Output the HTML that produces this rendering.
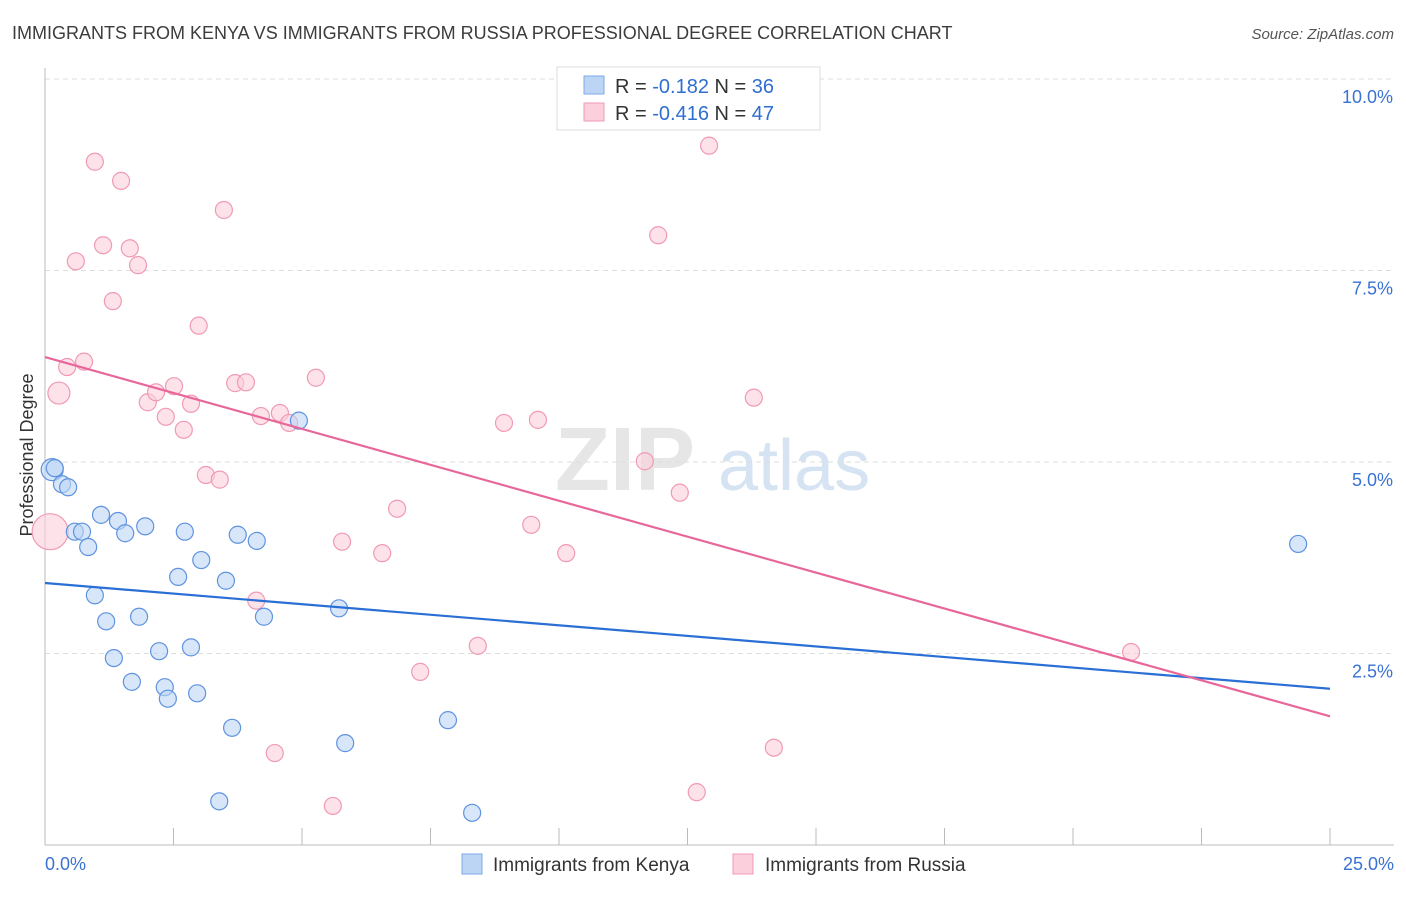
<!DOCTYPE html>
<html><head><meta charset="utf-8"><style>
body{margin:0;background:#fff;font-family:"Liberation Sans",sans-serif;}
svg text{font-family:"Liberation Sans",sans-serif;}
</style></head><body>
<svg id="chart" width="1406" height="892" viewBox="0 0 1406 892">
<text x="12" y="39" font-size="18" fill="#3c3c3c">IMMIGRANTS FROM KENYA VS IMMIGRANTS FROM RUSSIA PROFESSIONAL DEGREE CORRELATION CHART</text>
<text x="1394" y="39" font-size="15" fill="#555" text-anchor="end" font-style="italic">Source: ZipAtlas.com</text>
<text x="555" y="490" font-size="90" fill="#e6e6e6" font-family="Liberation Serif" font-weight="bold">ZIP</text>
<text x="718" y="490" font-size="72" fill="#d5e3f3">atlas</text>
<text transform="translate(33,455) rotate(-90)" font-size="18" fill="#333" text-anchor="middle">Professional Degree</text>
<g id="grid"></g><g id="axes"></g><g id="pts"></g><g id="lines"></g>
<g>
<rect x="557" y="67" width="263" height="63" fill="#fff" stroke="#ddd"/>
<rect x="584" y="76" width="20" height="18" fill="#bcd5f5" stroke="#7ea9e8"/>
<text x="615" y="93" font-size="20" fill="#333">R = <tspan fill="#2f6fd0">-0.182</tspan>   N = <tspan fill="#2f6fd0">36</tspan></text>
<rect x="584" y="103" width="20" height="18" fill="#fbcfdc" stroke="#f09ab4"/>
<text x="615" y="120" font-size="20" fill="#333">R = <tspan fill="#2f6fd0">-0.416</tspan>   N = <tspan fill="#2f6fd0">47</tspan></text>
</g>
<g>
<rect x="462" y="854" width="20" height="20" fill="#bcd5f5" stroke="#7ea9e8"/>
<text x="493" y="871" font-size="19" fill="#333">Immigrants from Kenya</text>
<rect x="733" y="854" width="20" height="20" fill="#fbcfdc" stroke="#f09ab4"/>
<text x="765" y="871" font-size="19" fill="#333">Immigrants from Russia</text>
</g>
</svg>
<script>
const kenyaX=[0.14,0.19,0.33,0.45,0.58,0.72,0.84,1.09,1.42,1.56,1.95,0.97,1.19,1.83,1.34,1.69,2.22,2.33,2.39,2.59,2.72,2.84,2.96,3.04,3.52,3.64,3.39,3.75,4.12,4.26,4.94,5.72,5.84,7.84,8.31,24.38];
const kenyaY=[4.90,4.92,4.71,4.67,4.09,4.09,3.89,4.31,4.23,4.07,4.16,3.26,2.92,2.98,2.44,2.13,2.53,2.06,1.91,3.50,4.09,2.58,1.98,3.72,3.45,1.53,0.57,4.05,3.97,2.98,5.54,3.09,1.33,1.63,0.42,3.93];
const russiaX=[0.10,0.27,0.43,0.60,0.76,0.97,1.13,1.32,1.48,1.65,1.81,2.00,2.16,2.35,2.51,2.70,2.84,2.99,3.13,3.40,3.48,3.70,3.91,4.11,4.20,4.47,4.57,4.75,5.27,5.60,5.78,6.56,6.85,7.30,8.42,8.93,9.46,9.59,10.14,11.67,11.93,12.35,12.68,12.92,13.79,14.18,21.13];
const russiaY=[4.09,5.90,6.24,7.62,6.31,8.92,7.83,7.10,8.67,7.79,7.57,5.78,5.91,5.59,5.99,5.42,5.76,6.78,4.83,4.77,8.29,6.03,6.04,3.19,5.60,1.20,5.64,5.51,6.10,0.51,3.96,3.81,4.39,2.26,2.60,5.51,4.18,5.55,3.81,5.01,7.96,4.60,0.69,9.13,5.84,1.27,2.52];
const kenyaTrend=[3.42,2.04];
const russiaTrend=[6.37,1.68];
const yTicks=[2.5,5.0,7.5,10.0];
const xTickVals=[0,2.5,5,7.5,10,12.5,15,17.5,20,22.5,25];
const NS='http://www.w3.org/2000/svg';
const X=v=>45+v*51.4, Y=v=>845-v*76.6;
function mk(t,a,p){const e=document.createElementNS(NS,t);for(const k in a)e.setAttribute(k,a[k]);document.getElementById(p).appendChild(e);return e;}
yTicks.forEach(v=>{
 const l=mk('line',{x1:45,x2:1394,y1:Y(v),y2:Y(v),stroke:'#ddd','stroke-dasharray':'5,4'},'grid');
 
 
 const t=mk('text',{x:1393,y:Y(v)+24,'font-size':18,fill:'#3a72d4','text-anchor':'end'},'grid');
 t.textContent=v.toFixed(1)+'%';
 
 
});
const ax=mk('line',{x1:45,x2:45,y1:68,y2:845,stroke:'#bbb'},'axes');


const bx=mk('line',{x1:45,x2:1394,y1:845,y2:845,stroke:'#bbb'},'axes');


xTickVals.forEach(v=>{const t=mk('line',{x1:X(v),x2:X(v),y1:828,y2:845,stroke:'#bbb'},'axes');
 
 });
[[0,'start','0.0%',45],[25,'end','25.0%',1394]].forEach(a=>{const t=mk('text',{x:a[3],y:870,'font-size':18,fill:'#3a72d4','text-anchor':a[1]},'axes');t.textContent=a[2];
 
 });
function pts(xs,ys,fill,stroke,name,big){xs.forEach((x,i)=>{const r=big[i]||8.5;
 const c=mk('circle',{cx:X(x),cy:Y(ys[i]),r:r,fill:fill,'fill-opacity':0.6,stroke:stroke,'stroke-width':1.2},'pts');
 
 });}
pts(russiaX,russiaY,'#fbcfdc','#f09ab4','russia-point',{0:18,1:11});
pts(kenyaX,kenyaY,'#bcd5f5','#5f93e0','kenya-point',{0:11});
const l1=mk('line',{x1:X(0),x2:X(25),y1:Y(kenyaTrend[0]),y2:Y(kenyaTrend[1]),stroke:'#2a6fd6','stroke-width':2.2},'lines');


const l2=mk('line',{x1:X(0),x2:X(25),y1:Y(russiaTrend[0]),y2:Y(russiaTrend[1]),stroke:'#e8679a','stroke-width':2.2},'lines');


</script>
</body></html>
